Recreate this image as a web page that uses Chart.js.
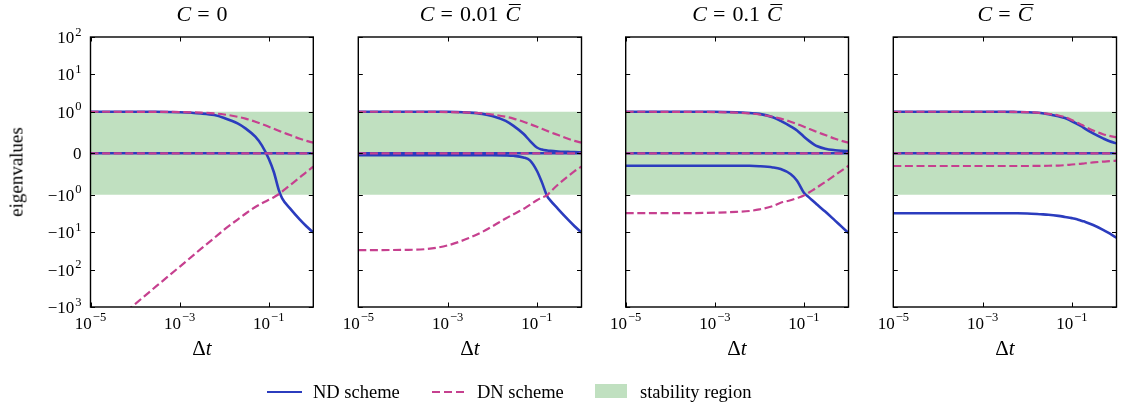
<!DOCTYPE html>
<html>
<head>
<meta charset="utf-8">
<script src="https://cdn.jsdelivr.net/npm/chart.js@4.4.1/dist/chart.umd.min.js"></script>
<style>
  html, body { margin: 0; padding: 0; background: #fff; }
  #fig { position: relative; width: 1121px; height: 408px; overflow: hidden;
         font-family: "Liberation Serif", "Times New Roman", serif; color: #000; }
  #fig canvas { position: absolute; left: 0; top: 0; }
  .title { position: absolute; top: 3px; font-size: 22px; line-height: 22px; height: 22px;
           transform: translateX(-50%); white-space: nowrap; }
  .eq { margin: 0 7px 0 6px; }
  .sp { display: inline-block; width: 7px; }
  .cbar { position: relative; display: inline-block; }
  .cbar::before { content: ""; position: absolute; left: 3px; right: -1px; top: 1px;
                  border-top: 1.2px solid #000; }
  .xlab { position: absolute; top: 338px; font-size: 21px; line-height: 21px;
          transform: translateX(-50%); white-space: nowrap; }
  .ylab { position: absolute; left: 16px; top: 172px; font-size: 19px; line-height: 1;
          transform: translate(-50%, -50%) rotate(-90deg); white-space: nowrap; }
  .lg { position: absolute; font-size: 18.5px; line-height: 1; top: 383px; white-space: nowrap; }
  .sw { position: absolute; }
</style>
</head>
<body>
<div id="fig">
  <canvas id="c1" width="1121" height="408"></canvas>
  <canvas id="c2" width="1121" height="408"></canvas>
  <canvas id="c3" width="1121" height="408"></canvas>
  <canvas id="c4" width="1121" height="408"></canvas>

  <div class="title" style="left:202px"><i>C</i><span class="eq">=</span>0</div>
  <div class="title" style="left:470px"><i>C</i><span class="eq">=</span>0.01<span class="sp"></span><i class="cbar">C</i></div>
  <div class="title" style="left:737px"><i>C</i><span class="eq">=</span>0.1<span class="sp"></span><i class="cbar">C</i></div>
  <div class="title" style="left:1005px"><i>C</i><span class="eq">=</span><i class="cbar">C</i></div>

  <div class="xlab" style="left:202px">Δ<i>t</i></div>
  <div class="xlab" style="left:470px">Δ<i>t</i></div>
  <div class="xlab" style="left:737px">Δ<i>t</i></div>
  <div class="xlab" style="left:1005px">Δ<i>t</i></div>

  <div class="ylab">eigenvalues</div>

  <!-- legend -->
  <div class="sw" style="left:267px; top:390.5px; width:35px; height:2.6px; background:#2b3cbe"></div>
  <div class="lg" style="left:313px">ND scheme</div>
  <div class="sw" style="left:432px; top:390.8px; width:32px; height:2.2px;
       background:repeating-linear-gradient(90deg, #c6408f 0 8px, transparent 8px 12px)"></div>
  <div class="lg" style="left:477px">DN scheme</div>
  <div class="sw" style="left:595px; top:384px; width:32px; height:14px; background:#c0e0c0"></div>
  <div class="lg" style="left:640px">stability region</div>
</div>

<script>
// time steps shared by every curve
const dt = [1e-5, 3e-5, 1e-4, 3e-4, 1e-3, 3e-3, 0.006, 0.01, 0.02, 0.03,
            0.05, 0.07, 0.1, 0.13, 0.17, 0.2, 0.3, 0.5, 0.7, 1];

const zeros = [0, 0, 0, 0, 0, 0, 0, 0, 0, 0, 0, 0, 0, 0, 0, 0, 0, 0, 0, 0];

// DN upper branch (same for the first three cases)
const dnTop = [1, 1, 0.999, 0.998, 0.993, 0.979, 0.96, 0.935, 0.88, 0.835,
               0.76, 0.705, 0.64, 0.59, 0.54, 0.51, 0.44, 0.35, 0.3, 0.255];

// C = 0
const nd1Top = [1, 1, 1, 1, 0.99, 0.96, 0.92, 0.85, 0.72, 0.6,
                0.4, 0.19, -0.13, -0.45, -0.9, -1.24, -2.3, -4.6, -6.9, -10.2];
const dn1Low = [-8350, -2780, -835, -278, -84, -28, -14.2, -8.5, -4.57, -3.2,
                -2.12, -1.69, -1.36, -1.16, -0.98, -0.92, -0.77, -0.58, -0.45, -0.32];

// C = 0.01 Cbar
const nd2Top = [1, 1, 1, 1, 1, 0.98, 0.95, 0.9, 0.78, 0.66,
                0.47, 0.3, 0.14, 0.09, 0.067, 0.058, 0.045, 0.035, 0.028, 0.024];
const nd2Low = [-0.045, -0.045, -0.045, -0.045, -0.045, -0.045, -0.045, -0.045, -0.05, -0.06,
                -0.1, -0.17, -0.42, -0.7, -1.08, -1.4, -2.4, -4.6, -6.9, -10.2];
const dn2Low = [-30, -30, -29.6, -28.5, -22.5, -14.3, -9.8, -7, -4.3, -3.3,
                -2.4, -1.85, -1.4, -1.18, -1.02, -0.93, -0.75, -0.55, -0.43, -0.32];

// C = 0.1 Cbar
const nd3Top = [1, 1, 1, 1, 1, 0.99, 0.97, 0.95, 0.87, 0.78,
                0.65, 0.55, 0.4, 0.3, 0.21, 0.17, 0.11, 0.075, 0.062, 0.055];
const nd3Low = [-0.3, -0.3, -0.3, -0.3, -0.3, -0.3, -0.3, -0.31, -0.34, -0.38,
                -0.5, -0.66, -0.95, -1.17, -1.55, -1.85, -2.8, -4.9, -7.1, -10.5];
const dn3Low = [-3.1, -3.1, -3.1, -3.08, -3.0, -2.85, -2.7, -2.45, -2.0, -1.62,
                -1.4, -1.22, -1.04, -0.945, -0.865, -0.815, -0.69, -0.525, -0.415, -0.3];

// C = Cbar
const nd4Top = [1, 1, 1, 1, 1, 1, 0.995, 0.99, 0.97, 0.94,
                0.89, 0.85, 0.77, 0.71, 0.64, 0.59, 0.48, 0.36, 0.29, 0.24];
const dn4Top = [1, 1, 1, 1, 1, 1, 0.995, 0.99, 0.97, 0.95,
                0.91, 0.87, 0.8, 0.74, 0.68, 0.64, 0.55, 0.46, 0.42, 0.385];
const nd4Low = [-3.1, -3.1, -3.1, -3.1, -3.1, -3.1, -3.1, -3.15, -3.3, -3.4,
                -3.65, -3.9, -4.2, -4.5, -5.0, -5.3, -6.4, -8.6, -10.8, -14];
const dn4Low = [-0.305, -0.305, -0.305, -0.305, -0.305, -0.305, -0.305, -0.305, -0.303, -0.3,
                -0.295, -0.285, -0.27, -0.26, -0.25, -0.24, -0.22, -0.2, -0.19, -0.178];

// stability band |lambda| <= 1
const stabilityBounds = [-1, 1];

// ticks
const xTickValues = [1e-5, 1e-3, 1e-1];
const xTickLabels = [["10", "−5"], ["10", "−3"], ["10", "−1"]];
const yTickValues = [100, 10, 1, 0, -1, -10, -100, -1000];
const yTickLabels = [["10", "2"], ["10", "1"], ["10", "0"], ["0", ""],
                     ["−10", "0"], ["−10", "1"], ["−10", "2"], ["−10", "3"]];

const panels = [
  { id: "c1", left: 90.5, right: 313.3, nd: [nd1Top, zeros], dn: [dnTop, zeros, dn1Low], yLabels: true },
  { id: "c2", left: 358.3, right: 581.5, nd: [nd2Top, zeros, nd2Low], dn: [dnTop, zeros, dn2Low] },
  { id: "c3", left: 625.7, right: 848.5, nd: [nd3Top, zeros, nd3Low], dn: [dnTop, zeros, dn3Low] },
  { id: "c4", left: 893.3, right: 1116.5, nd: [nd4Top, zeros, nd4Low], dn: [dn4Top, zeros, dn4Low] }
];

const ND_COLOR = "#2b3cbe";
const DN_COLOR = "#c6408f";
const BAND_COLOR = "#c0e0c0";
const PLOT_TOP = 37;
const PLOT_BOTTOM = 307;
const FONT = "Liberation Serif";
const TICK_PX = 17;
const EXP_PX = 12.5;

// =========================
// SYMLOG SCALE (linthresh 1, linscale 1)
// =========================
const LIN_ADJ = 1 / (1 - 1 / 10);
function symlog(v){
    const a = Math.abs(v);
    if(a <= 1) return v * LIN_ADJ;
    return Math.sign(v) * (LIN_ADJ + Math.log10(a));
}
function symexp(s){
    const a = Math.abs(s);
    if(a <= LIN_ADJ) return s / LIN_ADJ;
    return Math.sign(s) * Math.pow(10, a - LIN_ADJ);
}

class SymlogScale extends Chart.LinearScale {
    static id = "symlog";
    buildTicks(){
        return yTickValues.map(v => ({ value: v }));
    }
    configure(){
        super.configure();
        this._s0 = symlog(this.min);
        this._s1 = symlog(this.max);
    }
    getPixelForValue(v){
        return this.getPixelForDecimal((symlog(v) - this._s0) / (this._s1 - this._s0));
    }
    getValueForPixel(p){
        return symexp(this._s0 + this.getDecimalForPixel(p) * (this._s1 - this._s0));
    }
}
Chart.register(SymlogScale);

// =========================
// FRAME, INWARD TICKS, TICK LABELS
// =========================
function drawPowerLabel(ctx, base, exp, x, baseline, align){
    ctx.font = TICK_PX + "px '" + FONT + "'";
    const wb = ctx.measureText(base).width;
    ctx.font = EXP_PX + "px '" + FONT + "'";
    const we = exp ? ctx.measureText(exp).width + 1 : 0;
    let x0 = align === "right" ? x - wb - we : x - (wb + we) / 2;
    ctx.textAlign = "left";
    ctx.textBaseline = "alphabetic";
    ctx.font = TICK_PX + "px '" + FONT + "'";
    ctx.fillText(base, x0, baseline);
    if(exp){
        ctx.font = EXP_PX + "px '" + FONT + "'";
        ctx.fillText(exp, x0 + wb + 1, baseline - 7.5);
    }
}

const framePlugin = {
    id: "frame",
    afterDraw(chart, args, opts){
        const ctx = chart.ctx;
        const a = chart.chartArea;
        const x = chart.scales.x;
        const y = chart.scales.y;
        const tl = 4.5;

        ctx.save();
        ctx.strokeStyle = "#000";
        ctx.lineWidth = 1;
        ctx.beginPath();
        xTickValues.forEach(v => {
            const px = Math.round(x.getPixelForValue(v)) + 0.5;
            ctx.moveTo(px, a.bottom); ctx.lineTo(px, a.bottom - tl);
            ctx.moveTo(px, a.top); ctx.lineTo(px, a.top + tl);
        });
        yTickValues.forEach(v => {
            const py = Math.round(y.getPixelForValue(v)) + 0.5;
            ctx.moveTo(a.left, py); ctx.lineTo(a.left + tl, py);
            ctx.moveTo(a.right, py); ctx.lineTo(a.right - tl, py);
        });
        ctx.stroke();

        ctx.lineWidth = 1.4;
        ctx.strokeRect(a.left, a.top, a.right - a.left, a.bottom - a.top);

        ctx.fillStyle = "#000";
        xTickValues.forEach((v, i) => {
            drawPowerLabel(ctx, xTickLabels[i][0], xTickLabels[i][1], x.getPixelForValue(v), a.bottom + 21.5, "center");
        });
        if(opts.yLabels){
            yTickValues.forEach((v, i) => {
                drawPowerLabel(ctx, yTickLabels[i][0], yTickLabels[i][1], a.left - 9, y.getPixelForValue(v) + 6, "right");
            });
        }
        ctx.restore();
    }
};

// =========================
// PANELS
// =========================
function curve(values){
    return dt.map((t, i) => ({ x: t, y: values[i] }));
}

function makePanel(p){
    const datasets = [];

    p.dn.forEach(vals => datasets.push({
        label: "DN scheme",
        data: curve(vals),
        borderColor: DN_COLOR,
        borderWidth: 2.2,
        borderDash: [8, 3.6],
        pointRadius: 0,
        cubicInterpolationMode: "monotone",
        fill: false,
        order: 0
    }));

    p.nd.forEach(vals => datasets.push({
        label: "ND scheme",
        data: curve(vals),
        borderColor: ND_COLOR,
        borderWidth: 2.6,
        pointRadius: 0,
        cubicInterpolationMode: "monotone",
        fill: false,
        order: 1
    }));

    datasets.push({
        label: "stability region",
        data: [{ x: dt[0], y: stabilityBounds[1] }, { x: dt[dt.length - 1], y: stabilityBounds[1] }],
        borderWidth: 0,
        pointRadius: 0,
        backgroundColor: BAND_COLOR,
        fill: { value: stabilityBounds[0] },
        order: 2
    });

    new Chart(document.getElementById(p.id), {
        type: "line",
        data: { datasets: datasets },
        options: {
            responsive: false,
            animation: false,
            events: [],
            devicePixelRatio: 1,
            layout: {
                padding: { left: p.left, right: 1121 - p.right, top: PLOT_TOP, bottom: 408 - PLOT_BOTTOM }
            },
            plugins: {
                legend: { display: false },
                tooltip: { enabled: false },
                frame: { yLabels: !!p.yLabels }
            },
            scales: {
                x: { type: "logarithmic", min: 1e-5, max: 1, display: false },
                y: { type: "symlog", min: -1000, max: 100, display: false }
            }
        },
        plugins: [framePlugin]
    });
}

panels.forEach(makePanel);
</script>
</body>
</html>
